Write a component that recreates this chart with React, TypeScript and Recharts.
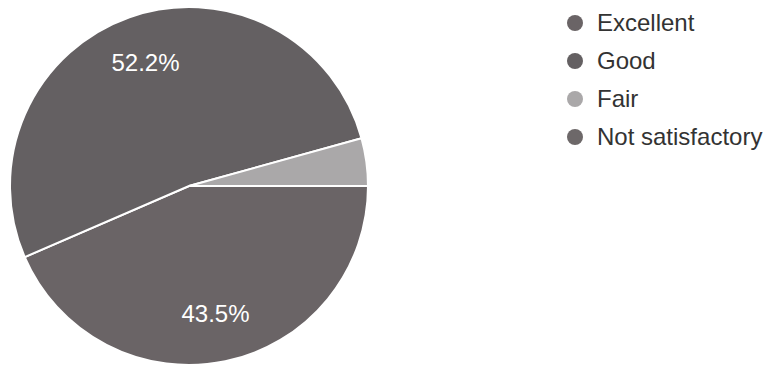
import { PieChart, Pie, Cell, Legend } from 'recharts'

const categories = ['Excellent', 'Good', 'Fair', 'Not satisfactory']
const shares = [43.5, 52.2, 4.3, 0]
const colors = ['#6a6466', '#646062', '#aaa8a9', '#6d6869']

const data = categories.map((name, i) => ({ name, value: shares[i] }))

const RADIAN = Math.PI / 180

function renderLabel(props: any) {
  const { cx, cy, midAngle, outerRadius, value } = props
  if (value < 5) return null // google-style: tiny slices get no label
  const r = outerRadius * 0.73
  const x = cx + r * Math.cos(-midAngle * RADIAN)
  const y = cy + r * Math.sin(-midAngle * RADIAN)
  return (
    <text
      x={x}
      y={y}
      fill="#ffffff"
      textAnchor="middle"
      dominantBaseline="central"
      fontSize={24}
      fontFamily="Liberation Sans, Arial, sans-serif"
    >
      {`${value.toFixed(1)}%`}
    </text>
  )
}

function LegendList() {
  return (
    <div style={{ fontFamily: 'Liberation Sans, Arial, sans-serif' }}>
      {categories.map((name, i) => (
        <div key={name} style={{ display: 'flex', alignItems: 'center', height: 38 }}>
          <svg width={18} height={18} style={{ marginRight: 13 }}>
            <circle cx={9} cy={9} r={8} fill={colors[i]} />
          </svg>
          <span style={{ fontSize: 24, color: '#333333', whiteSpace: 'nowrap' }}>{name}</span>
        </div>
      ))}
    </div>
  )
}

export default function App() {
  return (
    <div style={{ position: 'absolute', left: 0, top: 0, width: 763, height: 367, background: '#fff' }}>
      <PieChart width={763} height={367} margin={{ top: 0, right: 0, bottom: 0, left: 0 }}>
        <Pie
          data={data}
          dataKey="value"
          nameKey="name"
          cx={189}
          cy={186}
          outerRadius={179}
          startAngle={0}
          endAngle={-360}
          stroke="#ffffff"
          strokeWidth={2}
          label={renderLabel}
          labelLine={false}
          isAnimationActive={false}
        >
          {data.map((d, i) => (
            <Cell key={d.name} fill={colors[i]} />
          ))}
        </Pie>
        <Legend
          layout="vertical"
          verticalAlign="top"
          align="right"
          wrapperStyle={{ left: 566, top: 4, width: 197 }}
          content={() => <LegendList />}
        />
      </PieChart>
    </div>
  )
}
